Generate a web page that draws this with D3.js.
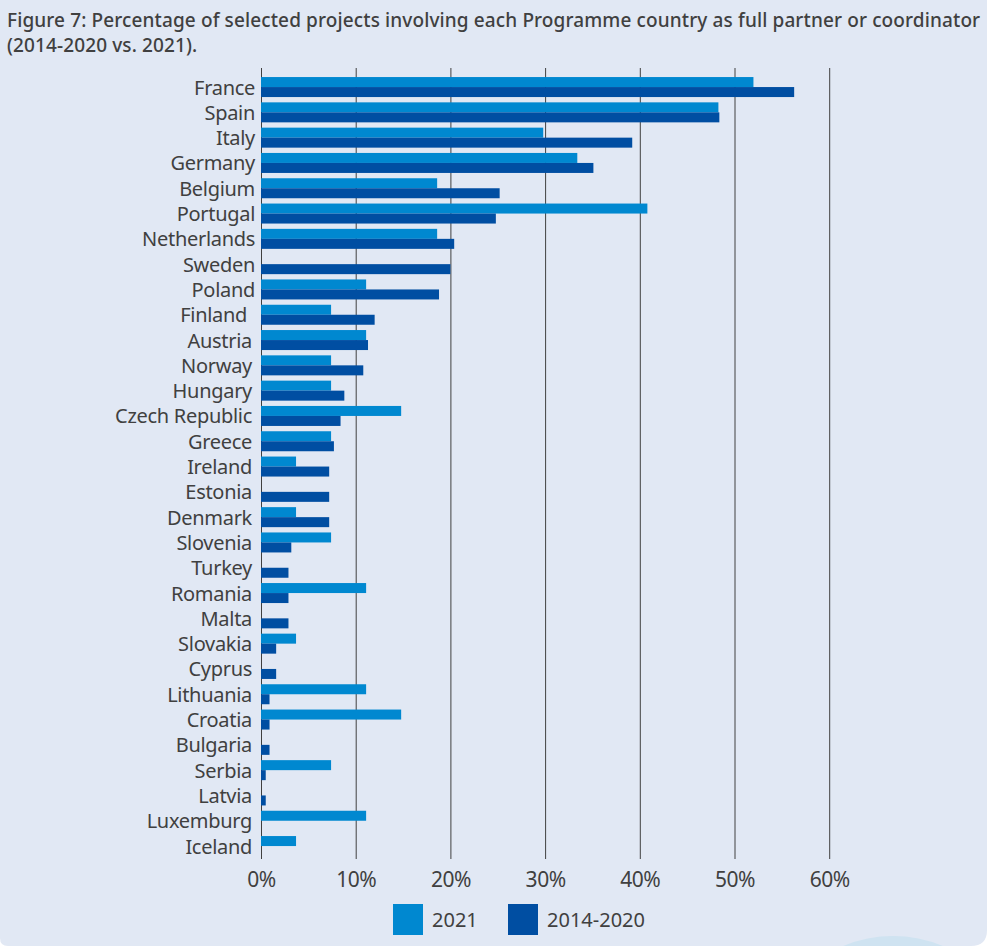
<!DOCTYPE html>
<html>
<head>
<meta charset="utf-8">
<script src="https://cdn.jsdelivr.net/npm/d3@7"></script>
<style>
body { margin: 0; background: #ffffff; }
svg { display: block; }
text { font-family: "Noto Sans", sans-serif; fill: #404040; white-space: pre; }
</style>
</head>
<body>
<script>
var countries = ["France","Spain","Italy","Germany","Belgium","Portugal","Netherlands","Sweden","Poland","Finland ","Austria","Norway","Hungary","Czech Republic","Greece","Ireland","Estonia","Denmark","Slovenia","Turkey","Romania","Malta","Slovakia","Cyprus","Lithuania","Croatia","Bulgaria","Serbia","Latvia","Luxemburg","Iceland"];
var values2021 = [52,48.3,29.8,33.4,18.6,40.8,18.6,0,11.1,7.4,11.1,7.4,7.4,14.8,7.4,3.7,0,3.7,7.4,0,11.1,0,3.7,0,11.1,14.8,0,7.4,0,11.1,3.7];
var values2014 = [56.3,48.4,39.2,35.1,25.2,24.8,20.4,20,18.8,12,11.3,10.8,8.8,8.4,7.7,7.2,7.2,7.2,3.2,2.9,2.9,2.9,1.6,1.6,0.9,0.9,0.9,0.5,0.5,0,0];
var seriesNames = ["2021","2014-2020"];
var seriesColors = ["#0088d0","#004ea2"];
var xTicks = [0,10,20,30,40,50,60];
var titleLines = ["Figure 7: Percentage of selected projects involving each Programme country as full partner or coordinator","(2014-2020 vs. 2021)."];

var width = 987, height = 946;
var svg = d3.select("body").append("svg").attr("width",width).attr("height",height);

// page panel, rounded at the bottom corners
svg.append("path")
    .attr("d","M0,0 H987 V930 Q987,946 971,946 H8 Q0,946 0,938 Z")
    .style("fill","#e1e8f4");

// pale circle peeking in at the bottom right
svg.append("circle").attr("cx",893).attr("cy",1066).attr("r",130).style("fill","#cfe3f1");

var x = d3.scaleLinear().domain([0,60]).range([261,829.2]);
var y = d3.scaleBand().domain(countries).range([74.4,858.7]);
var barH = 10;

svg.selectAll(".title").data(titleLines).enter().append("text")
    .attr("class","title")
    .attr("x",7)
    .attr("y",function (d,i) { return 27 + i*25; })
    .style("font-size","19px")
    .style("font-weight","500")
    .style("letter-spacing","0.12px")
    .text(function (d) { return d; });

// gridlines
var xAxis = d3.axisBottom(x).tickValues(xTicks).tickSize(791).tickFormat(function (d) { return d + "%"; });
var gx = svg.append("g").attr("transform","translate(0,68)").call(xAxis);
gx.select(".domain").remove();
gx.selectAll("line").style("stroke","#404040").style("stroke-width",1);
gx.selectAll("text")
    .attr("y",819)
    .attr("dy",0)
    .style("font-family","\"Noto Sans\", sans-serif")
    .style("font-size","21px")
    .style("letter-spacing","-0.5px");

var groups = svg.selectAll(".country").data(countries).enter().append("g").attr("class","country");
groups.append("rect")
    .attr("x",x(0))
    .attr("y",function (d) { return y(d) + y.bandwidth()/2 - barH; })
    .attr("width",function (d,i) { return x(values2021[i]) - x(0); })
    .attr("height",barH)
    .style("fill",seriesColors[0]);
groups.append("rect")
    .attr("x",x(0))
    .attr("y",function (d) { return y(d) + y.bandwidth()/2; })
    .attr("width",function (d,i) { return x(values2014[i]) - x(0); })
    .attr("height",barH)
    .style("fill",seriesColors[1]);
groups.append("text")
    .attr("x",function (d,i) { return i < 9 ? 255 : 252; }) // lower labels sit a little further left in the original
    .attr("y",function (d) { return y(d) + y.bandwidth()/2 + 7.5; })
    .attr("text-anchor","end")
    .style("font-size","20px")
    .style("letter-spacing","-0.3px")
    .text(function (d) { return d; });

// legend
var legendX = [393,508];
var legend = svg.selectAll(".legend").data(seriesNames).enter().append("g").attr("class","legend");
legend.append("rect")
    .attr("x",function (d,i) { return legendX[i]; })
    .attr("y",904)
    .attr("width",30)
    .attr("height",31)
    .style("fill",function (d,i) { return seriesColors[i]; });
legend.append("text")
    .attr("x",function (d,i) { return legendX[i] + 39; })
    .attr("y",927)
    .style("font-size","20px")
    .text(function (d) { return d; });
</script>
</body>
</html>
